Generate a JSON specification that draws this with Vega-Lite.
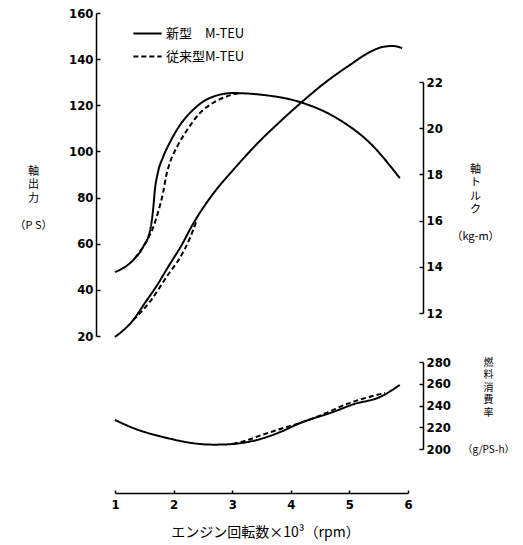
{
  "$schema": "https://vega.github.io/schema/vega-lite/v6.json",
  "width": 293,
  "height": 480,
  "autosize": {"type": "none"},
  "padding": {"left": 115, "top": 13, "right": 115, "bottom": 52},
  "background": "white",
  "config": {
    "view": {"stroke": null},
    "axis": {
      "grid": false,
      "domainColor": "black",
      "domainWidth": 1.5,
      "tickColor": "black",
      "tickWidth": 1.5,
      "tickSize": -4,
      "labelFont": "Liberation Sans Narrow, DejaVu Sans Condensed",
      "labelFontWeight": "bold",
      "labelFontSize": 13,
      "labelColor": "black",
      "labelPadding": 7,
      "titleFont": "Noto Sans CJK JP",
      "titleFontWeight": "normal",
      "titleColor": "black",
      "titleFontSize": 11
    }
  },
  "data": {
    "values": [
      {"metric": "power", "type": "新型　M-TEU", "rpm": 1.0, "value": 19.6},
      {"metric": "power", "type": "新型　M-TEU", "rpm": 1.31, "value": 26.9},
      {"metric": "power", "type": "新型　M-TEU", "rpm": 1.51, "value": 34.3},
      {"metric": "power", "type": "新型　M-TEU", "rpm": 1.72, "value": 42.1},
      {"metric": "power", "type": "新型　M-TEU", "rpm": 1.92, "value": 50.5},
      {"metric": "power", "type": "新型　M-TEU", "rpm": 2.14, "value": 59.5},
      {"metric": "power", "type": "新型　M-TEU", "rpm": 2.33, "value": 68.5},
      {"metric": "power", "type": "新型　M-TEU", "rpm": 2.67, "value": 81.5},
      {"metric": "power", "type": "新型　M-TEU", "rpm": 3.0, "value": 91.5},
      {"metric": "power", "type": "新型　M-TEU", "rpm": 3.47, "value": 104.5},
      {"metric": "power", "type": "新型　M-TEU", "rpm": 3.82, "value": 113.0},
      {"metric": "power", "type": "新型　M-TEU", "rpm": 4.16, "value": 120.8},
      {"metric": "power", "type": "新型　M-TEU", "rpm": 4.62, "value": 130.5},
      {"metric": "power", "type": "新型　M-TEU", "rpm": 5.01, "value": 137.5},
      {"metric": "power", "type": "新型　M-TEU", "rpm": 5.35, "value": 143.1},
      {"metric": "power", "type": "新型　M-TEU", "rpm": 5.57, "value": 145.3},
      {"metric": "power", "type": "新型　M-TEU", "rpm": 5.74, "value": 145.7},
      {"metric": "power", "type": "新型　M-TEU", "rpm": 5.9, "value": 144.8},
      {"metric": "power", "type": "従来型M-TEU", "rpm": 1.31, "value": 26.9},
      {"metric": "power", "type": "従来型M-TEU", "rpm": 1.43, "value": 30.0},
      {"metric": "power", "type": "従来型M-TEU", "rpm": 1.6, "value": 35.0},
      {"metric": "power", "type": "従来型M-TEU", "rpm": 1.89, "value": 46.0},
      {"metric": "power", "type": "従来型M-TEU", "rpm": 2.11, "value": 54.0},
      {"metric": "power", "type": "従来型M-TEU", "rpm": 2.28, "value": 62.5},
      {"metric": "power", "type": "従来型M-TEU", "rpm": 2.4, "value": 70.5},
      {"metric": "torque", "type": "新型　M-TEU", "rpm": 1.0, "value": 13.77},
      {"metric": "torque", "type": "新型　M-TEU", "rpm": 1.31, "value": 14.29},
      {"metric": "torque", "type": "新型　M-TEU", "rpm": 1.48, "value": 14.86},
      {"metric": "torque", "type": "新型　M-TEU", "rpm": 1.6, "value": 15.59},
      {"metric": "torque", "type": "新型　M-TEU", "rpm": 1.65, "value": 16.46},
      {"metric": "torque", "type": "新型　M-TEU", "rpm": 1.68, "value": 17.32},
      {"metric": "torque", "type": "新型　M-TEU", "rpm": 1.73, "value": 18.06},
      {"metric": "torque", "type": "新型　M-TEU", "rpm": 1.82, "value": 18.75},
      {"metric": "torque", "type": "新型　M-TEU", "rpm": 1.94, "value": 19.4},
      {"metric": "torque", "type": "新型　M-TEU", "rpm": 2.11, "value": 20.14},
      {"metric": "torque", "type": "新型　M-TEU", "rpm": 2.33, "value": 20.79},
      {"metric": "torque", "type": "新型　M-TEU", "rpm": 2.62, "value": 21.31},
      {"metric": "torque", "type": "新型　M-TEU", "rpm": 3.01, "value": 21.52},
      {"metric": "torque", "type": "新型　M-TEU", "rpm": 3.53, "value": 21.44},
      {"metric": "torque", "type": "新型　M-TEU", "rpm": 4.16, "value": 21.13},
      {"metric": "torque", "type": "新型　M-TEU", "rpm": 4.84, "value": 20.35},
      {"metric": "torque", "type": "新型　M-TEU", "rpm": 5.35, "value": 19.36},
      {"metric": "torque", "type": "新型　M-TEU", "rpm": 5.86, "value": 17.84},
      {"metric": "torque", "type": "従来型M-TEU", "rpm": 1.34, "value": 14.38},
      {"metric": "torque", "type": "従来型M-TEU", "rpm": 1.5, "value": 14.95},
      {"metric": "torque", "type": "従来型M-TEU", "rpm": 1.65, "value": 15.7},
      {"metric": "torque", "type": "従来型M-TEU", "rpm": 1.75, "value": 16.5},
      {"metric": "torque", "type": "従来型M-TEU", "rpm": 1.82, "value": 17.2},
      {"metric": "torque", "type": "従来型M-TEU", "rpm": 1.87, "value": 17.9},
      {"metric": "torque", "type": "従来型M-TEU", "rpm": 1.95, "value": 18.6},
      {"metric": "torque", "type": "従来型M-TEU", "rpm": 2.06, "value": 19.2},
      {"metric": "torque", "type": "従来型M-TEU", "rpm": 2.23, "value": 19.92},
      {"metric": "torque", "type": "従来型M-TEU", "rpm": 2.45, "value": 20.66},
      {"metric": "torque", "type": "従来型M-TEU", "rpm": 2.67, "value": 21.09},
      {"metric": "torque", "type": "従来型M-TEU", "rpm": 2.91, "value": 21.38},
      {"metric": "torque", "type": "従来型M-TEU", "rpm": 3.13, "value": 21.52},
      {"metric": "bsfc", "type": "新型　M-TEU", "rpm": 1.0, "value": 226.7},
      {"metric": "bsfc", "type": "新型　M-TEU", "rpm": 1.31, "value": 219.3},
      {"metric": "bsfc", "type": "新型　M-TEU", "rpm": 1.89, "value": 210.1},
      {"metric": "bsfc", "type": "新型　M-TEU", "rpm": 2.45, "value": 204.6},
      {"metric": "bsfc", "type": "新型　M-TEU", "rpm": 2.7, "value": 204.0},
      {"metric": "bsfc", "type": "新型　M-TEU", "rpm": 3.01, "value": 204.6},
      {"metric": "bsfc", "type": "新型　M-TEU", "rpm": 3.42, "value": 208.3},
      {"metric": "bsfc", "type": "新型　M-TEU", "rpm": 3.82, "value": 215.6},
      {"metric": "bsfc", "type": "新型　M-TEU", "rpm": 4.16, "value": 223.9},
      {"metric": "bsfc", "type": "新型　M-TEU", "rpm": 4.72, "value": 234.0},
      {"metric": "bsfc", "type": "新型　M-TEU", "rpm": 5.06, "value": 241.0},
      {"metric": "bsfc", "type": "新型　M-TEU", "rpm": 5.52, "value": 247.8},
      {"metric": "bsfc", "type": "新型　M-TEU", "rpm": 5.86, "value": 258.9},
      {"metric": "bsfc", "type": "従来型M-TEU", "rpm": 3.01, "value": 204.6},
      {"metric": "bsfc", "type": "従来型M-TEU", "rpm": 3.22, "value": 207.5},
      {"metric": "bsfc", "type": "従来型M-TEU", "rpm": 3.51, "value": 213.0},
      {"metric": "bsfc", "type": "従来型M-TEU", "rpm": 3.82, "value": 218.4},
      {"metric": "bsfc", "type": "従来型M-TEU", "rpm": 4.16, "value": 223.9},
      {"metric": "bsfc", "type": "従来型M-TEU", "rpm": 4.62, "value": 233.5},
      {"metric": "bsfc", "type": "従来型M-TEU", "rpm": 4.96, "value": 241.5},
      {"metric": "bsfc", "type": "従来型M-TEU", "rpm": 5.35, "value": 248.0},
      {"metric": "bsfc", "type": "従来型M-TEU", "rpm": 5.61, "value": 251.5}
    ]
  },
  "encoding": {
    "x": {
      "field": "rpm",
      "type": "quantitative",
      "scale": {"domain": [1, 6], "nice": false},
      "axis": {
        "values": [1, 2, 3, 4, 5, 6],
        "format": "d",
        "labelFlush": false,
        "tickSize": -3,
        "labelPadding": 8,
        "title": "エンジン回転数×10³（rpm）",
        "titleFontSize": 14,
        "titleX": 150,
        "titleY": 39,
        "titleBaseline": "middle",
        "titleAlign": "center"
      }
    },
    "strokeDash": {
      "field": "type",
      "type": "nominal",
      "scale": {"domain": ["新型　M-TEU", "従来型M-TEU"], "range": [[1, 0], [5, 3]]},
      "legend": {
        "title": null,
        "orient": "none",
        "legendX": 17,
        "legendY": 5,
        "symbolType": "stroke",
        "symbolSize": 800,
        "symbolStrokeWidth": 2,
        "symbolStrokeColor": "black",
        "labelFont": "Noto Sans CJK JP",
        "labelFontSize": 13,
        "labelColor": "black",
        "labelOffset": 3,
        "rowPadding": -9
      }
    },
    "detail": {"field": "type"}
  },
  "layer": [
    {
      "transform": [{"filter": "datum.metric === 'power'"}],
      "mark": {"type": "line", "interpolate": "monotone", "color": "black", "strokeWidth": 2},
      "encoding": {
        "y": {
          "field": "value",
          "type": "quantitative",
          "scale": {"domain": [20, 160], "range": [323, 0], "nice": false, "zero": false},
          "axis": {
            "orient": "left",
            "offset": 19,
            "values": [20, 40, 60, 80, 100, 120, 140, 160],
            "title": ["軸", "出", "力", "⠀", "（P S）"],
            "titleAngle": 0,
            "titleAlign": "center",
            "titleBaseline": "top",
            "titleLineHeight": 13.5,
            "titleX": -63,
            "titleY": 152
          }
        }
      }
    },
    {
      "transform": [{"filter": "datum.metric === 'torque'"}],
      "mark": {"type": "line", "interpolate": "monotone", "color": "black", "strokeWidth": 2},
      "encoding": {
        "y": {
          "field": "value",
          "type": "quantitative",
          "scale": {"domain": [12, 22], "range": [300, 69], "nice": false, "zero": false},
          "axis": {
            "orient": "right",
            "offset": 15,
            "values": [12, 14, 16, 18, 20, 22],
            "title": ["軸", "ト", "ル", "ク", "⠀", "（kg-m）"],
            "titleAngle": 0,
            "titleAlign": "center",
            "titleBaseline": "top",
            "titleLineHeight": 13.5,
            "titleX": 52,
            "titleY": 150
          }
        }
      }
    },
    {
      "transform": [{"filter": "datum.metric === 'bsfc'"}],
      "mark": {"type": "line", "interpolate": "monotone", "color": "black", "strokeWidth": 2},
      "encoding": {
        "y": {
          "field": "value",
          "type": "quantitative",
          "scale": {"domain": [200, 280], "range": [436, 349], "nice": false, "zero": false},
          "axis": {
            "orient": "right",
            "offset": 15,
            "values": [200, 220, 240, 260, 280],
            "title": ["燃", "料", "消", "費", "率", "⠀", "⠀", "（g/PS-h）"],
            "titleFontSize": 10,
            "titleAngle": 0,
            "titleAlign": "center",
            "titleBaseline": "top",
            "titleLineHeight": 12.5,
            "titleX": 65,
            "titleY": 344
          }
        }
      }
    }
  ],
  "resolve": {"scale": {"y": "independent"}}
}
